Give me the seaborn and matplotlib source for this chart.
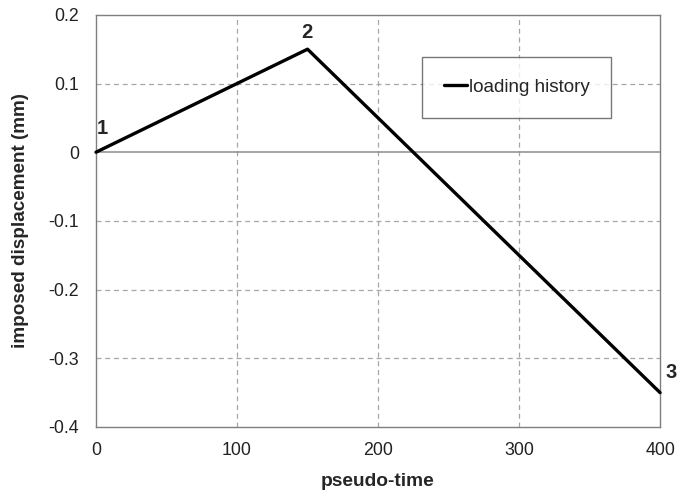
import matplotlib
matplotlib.use("Agg")
import matplotlib.pyplot as plt
import seaborn as sns
import pandas as pd

pseudo_time = [0, 150, 400]
displacement = [0.0, 0.15, -0.35]
point_labels = ["1", "2", "3"]
x_ticks = [0, 100, 200, 300, 400]
y_ticks = [-0.4, -0.3, -0.2, -0.1, 0, 0.1, 0.2]
y_tick_labels = ["-0.4", "-0.3", "-0.2", "-0.1", "0", "0.1", "0.2"]

sns.set_style("white")
plt.rcParams['font.family'] = ['Liberation Sans', 'DejaVu Sans']

df = pd.DataFrame({"pseudo-time": pseudo_time, "disp": displacement})

fig = plt.figure(figsize=(6.77, 4.95), dpi=100)
ax = fig.add_axes([0.1418, 0.1374, 0.8332, 0.8326])

ax.set_xlim(0, 400)
ax.set_ylim(-0.4, 0.2)
for xv in x_ticks[1:-1]:
    ax.axvline(xv, color="#a6a6a6", lw=0.9, ls=(0, (4, 3)), zorder=1)
for yv in y_ticks[1:-1]:
    if yv == 0:
        ax.axhline(0, color="#8c8c8c", lw=1.1, zorder=1)
    else:
        ax.axhline(yv, color="#a6a6a6", lw=0.9, ls=(0, (4, 3)), zorder=1)

sns.lineplot(data=df, x="pseudo-time", y="disp", ax=ax, color="black",
             lw=2.4, label="loading history", zorder=3, clip_on=False)

ax.set_xticks(x_ticks)
ax.set_yticks(y_ticks)
ax.set_yticklabels(y_tick_labels)
ax.tick_params(axis="both", length=0, labelsize=12.8, colors="#222222")
ax.tick_params(axis="y", pad=12)
ax.tick_params(axis="x", pad=11)
for s in ax.spines.values():
    s.set_color("#7f7f7f")
    s.set_linewidth(1.0)

ax.set_xlabel("pseudo-time", fontsize=13.8, fontweight="bold", labelpad=10)
ax.set_ylabel("imposed displacement (mm)", fontsize=13.6, fontweight="bold", labelpad=14)

label_pos = [(4.6, 0.035, "center"), (149.6, 0.174, "center"), (403.5, -0.32, "left")]
for lab, (xv, yv, ha) in zip(point_labels, label_pos):
    ax.text(xv, yv, lab, fontsize=14.5, fontweight="bold",
            ha=ha, va="center", clip_on=False)

leg = ax.legend(loc="upper left", bbox_to_anchor=(0.578, 0.898), frameon=True,
                fancybox=False, edgecolor="#555555", fontsize=13.6,
                handlelength=1.25, handletextpad=0.08, borderpad=1.15,
                borderaxespad=0)
leg.get_frame().set_linewidth(1.0)

fig.savefig("out.png", dpi=100)
